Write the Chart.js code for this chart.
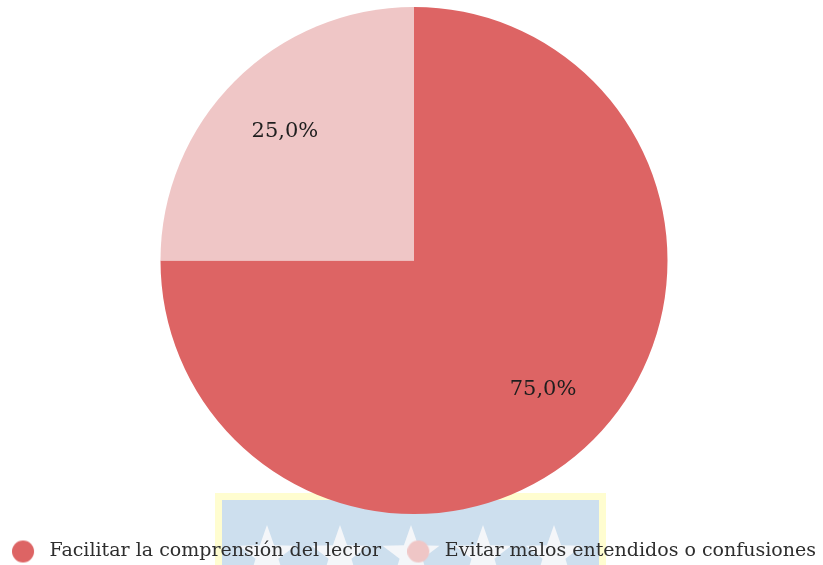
<!DOCTYPE html>
<html>
<head>
<meta charset="utf-8">
<script src="https://cdn.jsdelivr.net/npm/chart.js@4.4.0/dist/chart.umd.min.js"></script>
<style>
  html, body { margin: 0; padding: 0; background: #fff; }
  #wrap { position: relative; width: 823px; height: 565px; overflow: hidden; }
  #logo { position: absolute; left: 0; top: 0; }
  #chart { position: absolute; left: 0; top: 0; }
</style>
</head>
<body>
<div id="wrap">
  <!-- faint logo behind the chart -->
  <svg id="logo" width="823" height="565">
    <rect x="215" y="493" width="391" height="80" fill="#fffdd0"/>
    <rect x="222" y="500" width="377" height="80" fill="#cddfee"/>
    <g fill="#f4f6f9" id="stars"></g>
  </svg>
  <canvas id="chart" width="823" height="565"></canvas>
</div>
<script>
// stars in the logo
const starXs = [267, 340, 411, 483, 554];
const g = document.getElementById('stars');
starXs.forEach(function (cx) {
  const cy = 555, R = 30, r = 12;
  let pts = [];
  for (let i = 0; i < 10; i++) {
    const a = -Math.PI / 2 + i * Math.PI / 5;
    const rr = i % 2 === 0 ? R : r;
    pts.push((cx + rr * Math.cos(a)).toFixed(1) + ',' + (cy + rr * Math.sin(a)).toFixed(1));
  }
  const p = document.createElementNS('http://www.w3.org/2000/svg', 'polygon');
  p.setAttribute('points', pts.join(' '));
  g.appendChild(p);
});

// data
const categories = ['Facilitar la comprensión del lector', 'Evitar malos entendidos o confusiones'];
const values = [75, 25];
const colors = ['#dd6464', '#efc6c6'];

const FONT = '"DejaVu Serif", Georgia, serif';

// round legend markers drawn a bit left inside a wider box
function dot(color) {
  const c = document.createElement('canvas');
  c.width = 28; c.height = 24;
  const x = c.getContext('2d');
  x.fillStyle = color;
  x.beginPath();
  x.arc(11, 12, 11, 0, Math.PI * 2);
  x.fill();
  return c;
}
const dots = colors.map(dot);

const pctLabels = {
  id: 'pctLabels',
  afterDatasetsDraw(chart) {
    const ctx = chart.ctx;
    const meta = chart.getDatasetMeta(0);
    const total = values.reduce((a, b) => a + b, 0);
    ctx.save();
    ctx.font = '21px ' + FONT;
    ctx.fillStyle = '#1e1e1e';
    ctx.textAlign = 'center';
    ctx.textBaseline = 'middle';
    meta.data.forEach(function (arc, i) {
      const p = arc.getProps(['x', 'y', 'startAngle', 'endAngle', 'outerRadius']);
      const mid = (p.startAngle + p.endAngle) / 2;
      const d = p.outerRadius * 0.72;
      const txt = (values[i] / total * 100).toFixed(1).replace('.', ',') + '%';
      ctx.fillText(txt, p.x + Math.cos(mid) * d, p.y + Math.sin(mid) * d);
    });
    ctx.restore();
  }
};

new Chart(document.getElementById('chart'), {
  type: 'pie',
  data: {
    labels: categories,
    datasets: [{
      data: values,
      backgroundColor: colors,
      borderWidth: 0
    }]
  },
  options: {
    responsive: false,
    animation: false,
    layout: { padding: { top: 7, right: 0, bottom: -6, left: 5 } },
    plugins: {
      tooltip: { enabled: false },
      legend: {
        position: 'bottom',
        title: { display: true, text: '', padding: 0, font: { size: 26, lineHeight: 1 } },
        labels: {
          usePointStyle: true,
          pointStyleWidth: 28,
          color: '#2e2e2e',
          padding: 2,
          font: { family: FONT, size: 19 },
          generateLabels(chart) {
            const items = Chart.controllers.pie.overrides.plugins.legend.labels.generateLabels(chart);
            items.forEach(function (it, i) {
              it.pointStyle = dots[i];
              if (i === 0) it.text = it.text + '\u00A0\u00A0\u00A0\u00A0';
            });
            return items;
          }
        }
      }
    }
  },
  plugins: [pctLabels]
});
</script>
</body>
</html>
